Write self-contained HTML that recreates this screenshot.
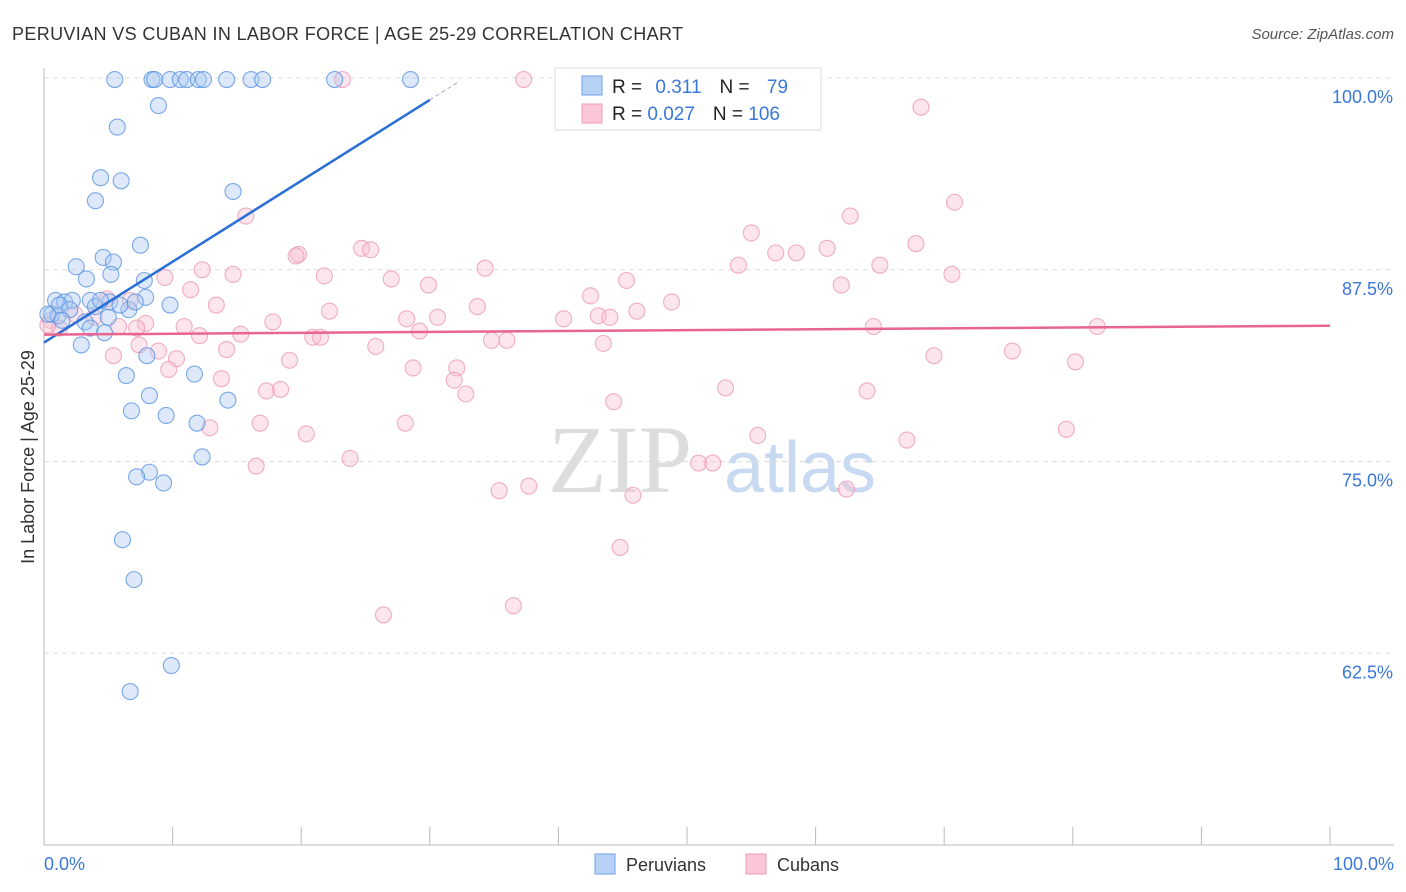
<!DOCTYPE html>
<html><head><meta charset="utf-8"><style>
body{margin:0;background:#fff;font-family:"Liberation Sans",sans-serif;}
#c{position:absolute;left:0;top:0;}
</style></head><body>
<svg id="c" width="1406" height="892">
<text x="12" y="40" font-size="18" fill="#333" textLength="671">PERUVIAN VS CUBAN IN LABOR FORCE | AGE 25-29 CORRELATION CHART</text>
<text x="1394" y="39" font-size="15" fill="#555" font-style="italic" text-anchor="end">Source: ZipAtlas.com</text>
<text x="620" y="492" font-size="96" fill="#ddd" text-anchor="middle" font-family="Liberation Serif,serif">ZIP</text>
<text x="800" y="492" font-size="72" fill="#c8daf2" text-anchor="middle">atlas</text>
<g id="grid"></g>
<g id="axes"></g>
<g id="pts"></g>
<g id="lines"></g>
<text transform="translate(34,457) rotate(-90)" font-size="18" fill="#333" text-anchor="middle">In Labor Force | Age 25-29</text>
<text x="44" y="870" font-size="18" fill="#3a78d8">0.0%</text>
<text x="1394" y="870" font-size="18" fill="#3a78d8" text-anchor="end">100.0%</text>
<g>
<rect x="555" y="68" width="266" height="62" fill="#fff" stroke="#ddd"/>
<rect x="582" y="76" width="20" height="19" fill="#b7d2f5" stroke="#6fa0e6"/>
<rect x="582" y="104" width="20" height="19" fill="#fbc7d6" stroke="#f09ab4"/>
<text x="612" y="93" font-size="19" fill="#222">R = <tspan fill="#3a78d8" dx="8">0.311</tspan><tspan dx="18">N = </tspan><tspan fill="#3a78d8" dx="12">79</tspan></text>
<text x="612" y="120" font-size="19" fill="#222">R = <tspan fill="#3a78d8">0.027</tspan><tspan dx="18">N = </tspan><tspan fill="#3a78d8">106</tspan></text>
</g>
<g>
<rect x="595" y="854" width="20" height="20" fill="#b7d2f5" stroke="#6fa0e6"/>
<text x="626" y="871" font-size="18" fill="#333">Peruvians</text>
<rect x="746" y="854" width="20" height="20" fill="#fbc7d6" stroke="#f09ab4"/>
<text x="777" y="871" font-size="18" fill="#333">Cubans</text>
</g>
</svg>
<script>
const yTicks=[62.5,75,87.5,100];
const yTickLabels=["62.5%","75.0%","87.5%","100.0%"];
const peruX=[5.5,8.4,8.6,9.8,10.6,11.1,12.0,12.4,14.2,16.1,17.0,22.6,28.5,8.9,5.7,4.4,6.0,4.0,14.7,7.5,4.6,5.4,2.5,5.2,3.3,7.8,7.9,9.8,6.6,5.1,0.9,1.6,2.2,3.6,4.0,0.6,1.1,0.3,3.2,3.6,4.7,2.9,8.0,6.4,11.7,8.2,14.3,6.8,9.5,11.9,12.3,8.2,7.2,9.3,6.1,7.0,9.9,6.7,1.2,2.0,4.4,5.9,7.1,5.0,1.4];
const peruY=[99.9,99.9,99.9,99.9,99.9,99.9,99.9,99.9,99.9,99.9,99.9,99.9,99.9,98.2,96.8,93.5,93.3,92.0,92.6,89.1,88.3,88.0,87.7,87.2,86.9,86.8,85.7,85.2,84.9,85.4,85.5,85.4,85.5,85.5,85.1,84.6,84.5,84.6,84.1,83.7,83.4,82.6,81.9,80.6,80.7,79.3,79.0,78.3,78.0,77.5,75.3,74.3,74.0,73.6,69.9,67.3,61.7,60.0,85.2,84.9,85.5,85.2,85.4,84.4,84.2];
const cubaX=[23.2,37.3,49.9,68.2,70.8,62.7,15.7,55.0,67.8,24.7,25.4,19.8,19.6,60.9,56.9,58.5,54.0,65.0,34.3,12.3,14.7,9.4,21.8,27.0,45.3,70.6,29.9,11.4,62.0,42.5,48.8,4.9,13.4,33.7,22.2,46.1,28.2,30.6,40.4,43.1,44.0,17.8,10.9,64.5,81.9,7.9,5.8,29.2,15.3,20.9,21.5,12.1,34.8,36.0,43.5,7.4,25.8,14.2,8.9,75.3,5.4,10.3,19.1,69.2,80.2,28.7,32.1,9.7,31.9,13.8,17.3,18.4,32.8,53.0,64.0,44.3,12.9,16.8,28.1,20.4,55.5,67.1,79.5,23.8,16.5,50.9,52.0,37.7,35.4,62.4,45.8,44.8,36.5,26.4,0.5,1.2,2.4,3.9,6.7,7.2,0.3];
const cubaY=[99.9,99.9,99.7,98.1,91.9,91.0,91.0,89.9,89.2,88.9,88.8,88.5,88.4,88.9,88.6,88.6,87.8,87.8,87.6,87.5,87.2,87.0,87.1,86.9,86.8,87.2,86.5,86.2,86.5,85.8,85.4,85.6,85.2,85.1,84.8,84.8,84.3,84.4,84.3,84.5,84.4,84.1,83.8,83.8,83.8,84.0,83.8,83.5,83.3,83.1,83.1,83.2,82.9,82.9,82.7,82.6,82.5,82.3,82.2,82.2,81.9,81.7,81.6,81.9,81.5,81.1,81.1,81.0,80.3,80.4,79.6,79.7,79.4,79.8,79.6,78.9,77.2,77.5,77.5,76.8,76.7,76.4,77.1,75.2,74.7,74.9,74.9,73.4,73.1,73.2,72.8,69.4,65.6,65.0,84.2,83.7,84.6,84.4,85.5,83.7,83.9];
const peruTrend=[82.75,98.57]; // y at x=0 and x=30
const cubaTrend=[83.27,83.85]; // y at x=0 and x=100
const NS="http://www.w3.org/2000/svg";
const L=44,R=1330,T=78,B=845;
function sx(v){return L+(R-L)*v/100;}
function sy(v){return T+(100-v)/50*(B-T);}
function mk(tag,attrs,parent){const e=document.createElementNS(NS,tag);for(const k in attrs)e.setAttribute(k,attrs[k]);parent.appendChild(e);return e;}
const grid=document.getElementById('grid'),axes=document.getElementById('axes'),pts=document.getElementById('pts'),lines=document.getElementById('lines');
yTicks.forEach((t,i)=>{
 const g=mk('line',{x1:L,x2:1394,y1:sy(t),y2:sy(t),stroke:'#ddd','stroke-dasharray':'5,4'},grid);
 
 
 const tx=mk('text',{x:1393,y:sy(t)+25,'font-size':18,fill:'#3a78d8','text-anchor':'end'},grid);
 tx.textContent=yTickLabels[i];
 
 
});
const ya=mk('line',{x1:L,x2:L,y1:68,y2:B,stroke:'#bbb'},axes);


const xa=mk('line',{x1:L,x2:1394,y1:B,y2:B,stroke:'#bbb'},axes);


for(let i=0;i<=10;i++){const tk=mk('line',{x1:sx(i*10),x2:sx(i*10),y1:B,y2:B-18,stroke:'#bbb'},axes);
 
 }
function dots(X,Y,fill,stroke,name){X.forEach((x,i)=>{const c=mk('circle',{cx:sx(x),cy:sy(Y[i]),r:8,fill:fill,'fill-opacity':0.4,stroke:stroke,'stroke-opacity':0.8,'stroke-width':1.1},pts);
 
 });}
dots(cubaX,cubaY,'#f8bfd0','#ee9ab5','cuban-point');
dots(peruX,peruY,'#a9c9f2','#5a93e2','peruvian-point');
const bl=mk('line',{x1:sx(0),y1:sy(peruTrend[0]),x2:sx(30),y2:sy(peruTrend[1]),stroke:'#2a6fd6','stroke-width':2.5},lines);


const slope=(peruTrend[1]-peruTrend[0])/30;
const bd=mk('line',{x1:sx(30),y1:sy(peruTrend[1]),x2:sx(32.3),y2:sy(peruTrend[0]+slope*32.3),stroke:'#aac','stroke-width':1,'stroke-dasharray':'4,3'},lines);


const pl=mk('line',{x1:sx(0),y1:sy(cubaTrend[0]),x2:sx(100),y2:sy(cubaTrend[1]),stroke:'#e8658f','stroke-width':2.5},lines);


</script>
</body></html>
